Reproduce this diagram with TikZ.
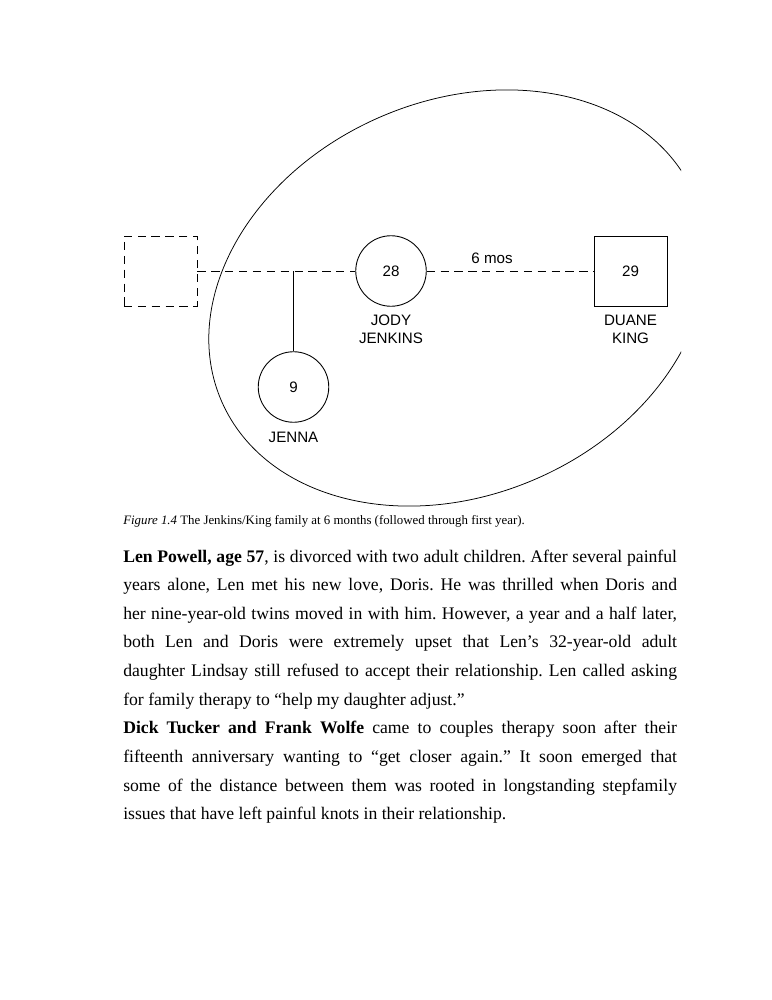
\documentclass[tikz,border=0pt]{standalone}
\usepackage{fontspec}
\setmainfont{Liberation Serif}
\newfontfamily\genofont{Liberation Sans}
\usetikzlibrary{positioning}
\frenchspacing
\pgfdeclarelayer{edgelayer}
\pgfdeclarelayer{nodelayer}
\pgfsetlayers{edgelayer,nodelayer,main}
\tikzstyle{female}=[circle, draw=black, line width=0.7pt, minimum size=55.9pt, inner sep=0pt, font=\genofont\fontsize{12}{14.3}\selectfont]
\tikzstyle{male}=[rectangle, draw=black, line width=0.7pt, minimum width=57.9pt, minimum height=55.5pt, inner sep=0pt, font=\genofont\fontsize{12}{14.3}\selectfont]
\tikzstyle{absent}=[male, dash pattern=on 6.5pt off 4.5pt]
\tikzstyle{personlabel}=[align=center, inner sep=0pt, font=\genofont\fontsize{12}{14.3}\selectfont]
\tikzstyle{edge}=[draw=black, line width=0.6pt]
\tikzstyle{dashedge}=[draw=black, line width=0.6pt, dash pattern=on 6.5pt off 4.5pt]
\tikzstyle{household}=[draw=black, line width=0.6pt]
\tikzstyle{figcaption}=[inner sep=0pt, font=\fontsize{10.2}{12}\selectfont]
\tikzstyle{storytext}=[inner sep=0pt, text width=439pt, align=justify, font=\fontsize{14}{22.7}\selectfont]
\newcommand\fullline[1]{\makebox[439pt][s]{#1}}

\begin{document}
\begin{tikzpicture}[x=0.7927pt, y=-0.7927pt]
	\useasboundingbox (0,0) rectangle (772,1000);
	\begin{pgfonlayer}{nodelayer}
		\node [style=absent] (ex) at (160.5, 271) {};
		\node [style=female] (jody) at (391, 271) {28};
		\node [style=male] (duane) at (630.5, 271) {29};
		\node [style=female] (jenna) at (293.5, 387) {9};
		\node [style=personlabel] (jodyname) at (391, 329.5) {JODY\\JENKINS};
		\node [style=personlabel] (duanename) at (630.5, 329.5) {DUANE\\KING};
		\node [style=personlabel] (jennaname) at (293.5, 437) {JENNA};
		\node [style=personlabel] (months) at (492, 258) {6 mos};
		\coordinate (jn) at (jenna |- jody);
	\end{pgfonlayer}
	\begin{pgfonlayer}{edgelayer}
		\draw [style=dashedge] (ex.east) to (jody.west);
		\draw [style=dashedge] (jody.east) to (duane.west);
		\draw [style=edge] (jn) to (jenna.north);
		\begin{scope}
			\clip (0,0) rectangle (681,1000);
			\draw [style=household, rotate around={23.7:(458,298)}] (458,298) ellipse [x radius=258, y radius=197];
		\end{scope}
	\end{pgfonlayer}
	\node [style=figcaption, anchor=base west] (cap) at (123, 524) {\textit{Figure 1.4} The Jenkins/King family at 6 months (followed through first year).};
	\node [style=storytext, anchor=base west] (story) at (123, 562) {%
		\fullline{\textbf{Len Powell, age 57}, is divorced with two adult children. After several painful}\\
		\fullline{years alone, Len met his new love, Doris. He was thrilled when Doris and}\\
		\fullline{her nine-year-old twins moved in with him. However, a year and a half later,}\\
		\fullline{both Len and Doris were extremely upset that Len's 32-year-old adult}\\
		\fullline{daughter Lindsay still refused to accept their relationship. Len called asking}\\
		for family therapy to “help my daughter adjust.”\\
		\fullline{\textbf{Dick Tucker and Frank Wolfe} came to couples therapy soon after their}\\
		\fullline{fifteenth anniversary wanting to “get closer again.” It soon emerged that}\\
		\fullline{some of the distance between them was rooted in longstanding stepfamily}\\
		issues that have left painful knots in their relationship.};
\end{tikzpicture}
\end{document}
